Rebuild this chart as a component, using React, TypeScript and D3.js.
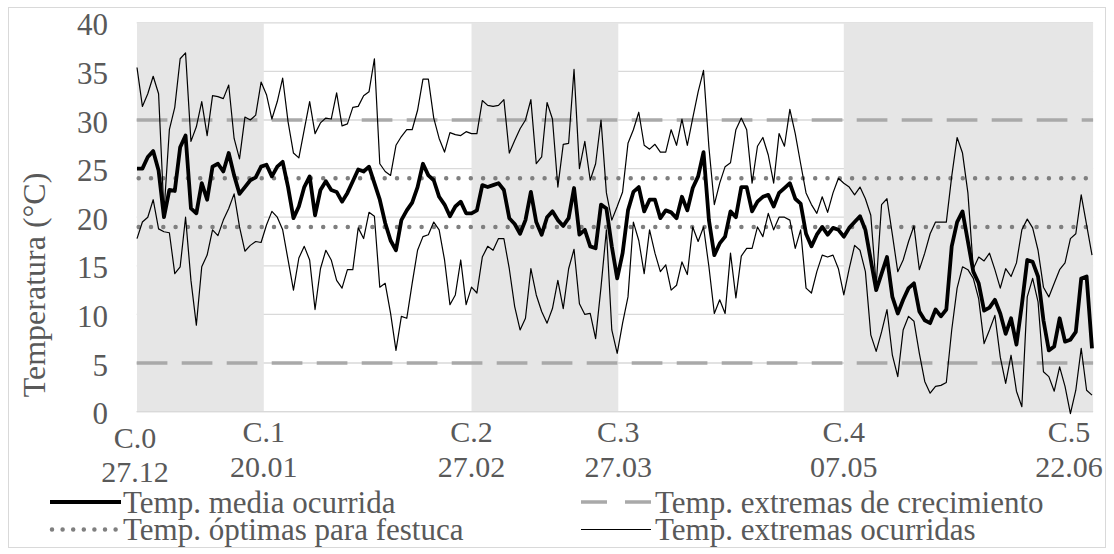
import React from "react";
import * as d3 from "d3";

// Daily temperatures (°C), day 0 = 27.12
const tMax = [
  35.4, 31.4, 32.7, 34.5, 32.7, 20.5, 29.0, 31.3, 36.3, 36.9, 27.8, 29.3, 31.9, 28.4, 32.5, 32.4, 32.2, 33.6, 28.1, 26.0,
  30.3, 30.0, 30.5, 33.9, 32.6, 30.1, 31.9, 34.3, 29.8, 26.6, 26.1, 29.0, 31.9, 28.6, 29.7, 30.2, 30.1, 32.8, 29.4, 29.6,
  31.3, 31.4, 32.5, 32.9, 36.3, 25.5, 24.7, 24.3, 27.4, 28.3, 29.0, 29.0, 31.0, 34.2, 34.2, 30.2, 28.1, 26.7, 28.7, 28.5,
  28.4, 28.8, 28.6, 28.6, 32.0, 31.5, 31.4, 31.5, 32.1, 26.6, 27.9, 29.1, 30.0, 32.1, 25.5, 26.2, 31.8, 30.1, 23.1, 27.5,
  27.6, 35.2, 25.0, 27.8, 23.8, 25.5, 30.0, 22.5, 19.7, 21.1, 22.6, 27.6, 29.0, 30.8, 27.4, 27.0, 27.5, 26.7, 26.7, 29.0,
  27.4, 30.1, 27.4, 30.2, 32.9, 35.1, 27.2, 21.3, 23.5, 25.2, 25.6, 29.0, 30.2, 29.0, 23.5, 27.3, 28.2, 26.4, 23.5, 28.6,
  27.3, 31.1, 28.6, 25.5, 22.5, 21.3, 20.4, 22.1, 20.5, 22.5, 24.0, 23.5, 23.1, 22.3, 23.1, 21.9, 20.2, 13.0, 21.3, 21.9,
  18.2, 14.4, 15.6, 17.5, 19.1, 14.6, 16.3, 18.3, 19.5, 19.5, 19.5, 24.2, 28.2, 26.6, 22.5, 14.7, 15.9, 15.5, 16.3, 14.6,
  12.7, 14.7, 13.9, 15.3, 18.7, 19.8, 18.9, 16.6, 12.8, 11.8, 13.2, 14.6, 15.3, 17.8, 18.3, 22.3, 19.2, 16.1,
];
const tMean = [
  25.0, 25.0, 26.2, 26.8, 24.8, 20.0, 22.8, 22.7, 27.2, 28.4, 20.9, 20.4, 23.5, 21.8, 25.2, 25.5, 24.7, 26.6, 24.3, 22.4,
  23.1, 23.8, 24.1, 25.2, 25.4, 24.2, 25.2, 25.7, 23.1, 19.9, 21.1, 23.1, 24.2, 20.2, 22.8, 23.7, 22.8, 22.6, 21.6, 22.5,
  23.7, 24.9, 24.7, 25.2, 23.5, 21.8, 19.4, 17.6, 16.6, 19.7, 20.7, 21.5, 23.1, 25.5, 24.3, 23.8, 22.1, 21.3, 20.1, 21.1,
  21.6, 20.4, 20.4, 20.7, 23.3, 23.1, 23.3, 23.5, 22.8, 19.9, 19.3, 18.3, 19.7, 22.6, 19.5, 18.2, 20.0, 20.6, 19.7, 19.1,
  19.9, 23.0, 18.2, 18.7, 17.0, 16.8, 21.3, 20.9, 17.0, 13.7, 16.3, 20.7, 22.6, 23.1, 20.6, 21.8, 21.8, 19.9, 20.7, 20.5,
  19.9, 22.1, 20.7, 23.0, 24.2, 26.7, 19.7, 16.1, 17.3, 18.0, 20.6, 20.0, 23.1, 23.1, 20.6, 21.6, 22.1, 22.3, 21.1, 22.5,
  23.0, 23.5, 21.9, 21.4, 18.3, 17.0, 18.2, 19.0, 18.2, 18.9, 18.7, 18.0, 18.9, 19.5, 20.1, 18.7, 15.6, 12.5, 14.2, 15.9,
  11.8, 10.1, 11.5, 12.7, 13.2, 10.3, 9.4, 9.1, 10.5, 9.8, 10.5, 17.0, 19.5, 20.6, 17.5, 14.4, 13.2, 10.4, 10.7, 11.5,
  10.1, 8.0, 9.6, 6.9, 11.0, 15.6, 15.4, 13.9, 9.4, 6.3, 6.7, 9.6, 7.2, 7.4, 8.2, 13.7, 13.9, 6.5,
];
const tMin = [
  17.8, 19.5, 20.0, 21.8, 18.8, 18.5, 18.4, 14.2, 14.9, 20.0, 13.5, 8.9, 14.9, 16.1, 18.7, 18.1, 19.7, 20.9, 22.4, 19.0,
  16.5, 17.1, 17.5, 17.4, 19.2, 20.6, 20.0, 18.7, 15.6, 12.5, 15.8, 17.0, 15.6, 10.5, 14.7, 16.6, 15.6, 13.5, 12.7, 14.6,
  14.6, 18.9, 17.8, 20.5, 20.1, 12.8, 13.2, 10.1, 6.3, 9.8, 9.6, 13.2, 16.6, 18.0, 18.2, 19.5, 18.7, 15.6, 11.0, 12.0,
  15.6, 11.0, 12.8, 12.2, 15.9, 17.0, 16.6, 17.8, 17.8, 14.7, 10.8, 8.4, 9.6, 14.7, 12.0, 10.3, 9.1, 10.6, 13.5, 10.6,
  14.7, 16.7, 11.1, 10.0, 10.1, 7.5, 12.8, 18.7, 8.4, 6.0, 9.1, 11.8, 19.5, 17.6, 14.2, 18.7, 16.3, 14.4, 15.1, 12.5,
  13.0, 15.4, 14.1, 19.0, 17.5, 19.0, 14.9, 10.1, 11.5, 10.1, 16.3, 11.7, 16.0, 16.8, 16.8, 19.0, 18.0, 20.4, 18.7, 20.0,
  20.0, 19.7, 16.8, 18.7, 12.7, 12.2, 14.4, 16.1, 15.9, 16.1, 14.7, 12.0, 14.7, 17.1, 16.6, 14.4, 7.9, 6.2, 8.2, 10.5,
  5.8, 3.6, 8.4, 9.8, 9.3, 6.0, 3.1, 1.9, 2.6, 2.7, 3.0, 8.4, 12.7, 14.9, 14.6, 13.7, 11.6, 7.0, 8.4, 9.9,
  5.6, 2.9, 5.8, 2.1, 0.5, 11.8, 13.7, 11.3, 4.1, 3.6, 2.1, 4.6, 2.6, -0.2, 2.2, 6.5, 2.2, 1.7,
];

const growthExtremes = [5, 30];
const optimalFescue = [19, 24];
const periodBounds = [0, 23.5, 62, 89.2, 131, 177.2];
const periodShaded = [true, false, true, false, true];
const cutLabels = ["C.0", "C.1", "C.2", "C.3", "C.4", "C.5"];
const cutDates = ["27.12", "20.01", "27.02", "27.03", "07.05", "22.06"];
const yTicks = [0, 5, 10, 15, 20, 25, 30, 35, 40];
const legendItems = [
  "Temp. media ocurrida",
  "Temp. extremas de crecimiento",
  "Temp. óptimas para festuca",
  "Temp. extremas ocurridas",
];

const FONT = "Liberation Serif, Tinos, Times New Roman, DejaVu Serif, serif";
const TXT = "#595959";
const tstyle = { fontFamily: FONT };

export default function App() {
  const x = d3.scaleLinear().domain([0, 177]).range([137, 1092]);
  const y = d3.scaleLinear().domain([0, 40]).range([411.6, 22.8]);
  const line = (arr: number[]) =>
    d3
      .line<number>()
      .x((_, i) => x(i))
      .y((v) => y(v))(arr) as string;

  const left = x(0) - 0.3;
  const right = x(periodBounds[periodBounds.length - 1]);

  const labelX = (i: number) => {
    const px = x(periodBounds[i]);
    if (i === cutLabels.length - 1) return px - 24;
    return px;
  };

  return (
    <svg
      width={1114}
      height={554}
      style={{ position: "absolute", left: 0, top: 0, background: "#fff", fontFamily: FONT }}
    >
      <rect x={8.5} y={7.5} width={1097} height={540} fill="#fff" stroke="#D9D9D9" strokeWidth={1} />
      {yTicks.map((t) => (
        <line key={"g" + t} x1={left} x2={right} y1={y(t)} y2={y(t)} stroke="#D9D9D9" strokeWidth={1.3} />
      ))}
      {periodShaded.map((s, i) =>
        s ? (
          <rect
            key={"p" + i}
            x={x(periodBounds[i])}
            y={y(40)}
            width={x(periodBounds[i + 1]) - x(periodBounds[i])}
            height={y(0) - y(40)}
            fill="#E6E6E6"
          />
        ) : null
      )}
      <line x1={left} x2={right} y1={y(0)} y2={y(0)} stroke="#D9D9D9" strokeWidth={1.3} />
      {growthExtremes.map((v) => (
        <line
          key={"ge" + v}
          x1={left}
          x2={right}
          y1={y(v)}
          y2={y(v)}
          stroke="#A9A9A9"
          strokeWidth={3.6}
          strokeDasharray="30.7 14.3"
        />
      ))}
      {optimalFescue.map((v) => (
        <line
          key={"of" + v}
          x1={left + 2}
          x2={right}
          y1={y(v)}
          y2={y(v)}
          stroke="#7F7F7F"
          strokeWidth={4.5}
          strokeLinecap="round"
          strokeDasharray="0 12.3"
        />
      ))}
      <path d={line(tMax)} fill="none" stroke="#000" strokeWidth={1.2} strokeLinejoin="round" />
      <path d={line(tMin)} fill="none" stroke="#000" strokeWidth={1.2} strokeLinejoin="round" />
      <path d={line(tMean)} fill="none" stroke="#000" strokeWidth={3.8} strokeLinejoin="round" />

      {yTicks.map((t) => (
        <text key={"yt" + t} x={108} y={y(t) + 12.5} textAnchor="end" fontSize={31} fill={TXT} style={tstyle}>
          {t}
        </text>
      ))}
      <text
        transform={`translate(45, ${285}) rotate(-90)`}
        textAnchor="middle"
        fontSize={32}
        fill={TXT}
        style={tstyle}
      >
        Temperatura (°C)
      </text>

      {cutLabels.map((c, i) => (
        <g key={"xl" + c}>
          <text
            x={i === 0 ? labelX(i) - 2 : labelX(i)}
            y={i === 0 ? 448 : 441.7}
            textAnchor="middle"
            fontSize={30}
            fill={TXT}
            style={tstyle}
          >
            {c}
          </text>
          <text
            x={i === 0 ? labelX(i) - 2 : labelX(i)}
            y={i === 0 ? 482 : 476.7}
            textAnchor="middle"
            fontSize={30}
            fill={TXT}
            style={tstyle}
          >
            {cutDates[i]}
          </text>
        </g>
      ))}

      <line x1={50} x2={121} y1={502} y2={502} stroke="#000" strokeWidth={3.8} />
      <text x={123} y={512.5} fontSize={31} fill={TXT} style={tstyle}>{legendItems[0]}</text>
      <line x1={581} x2={651} y1={502} y2={502} stroke="#A9A9A9" strokeWidth={3.6} strokeDasharray="26 18" />
      <text x={655} y={512.5} fontSize={31} fill={TXT} style={tstyle}>{legendItems[1]}</text>
      <line
        x1={52}
        x2={116}
        y1={529.5}
        y2={529.5}
        stroke="#7F7F7F"
        strokeWidth={4.5}
        strokeLinecap="round"
        strokeDasharray="0 10.6"
      />
      <text x={123} y={539.5} fontSize={31} fill={TXT} style={tstyle}>{legendItems[2]}</text>
      <line x1={581} x2={651} y1={529.5} y2={529.5} stroke="#000" strokeWidth={1.2} />
      <text x={655} y={539.5} fontSize={31} fill={TXT} style={tstyle}>{legendItems[3]}</text>
    </svg>
  );
}
